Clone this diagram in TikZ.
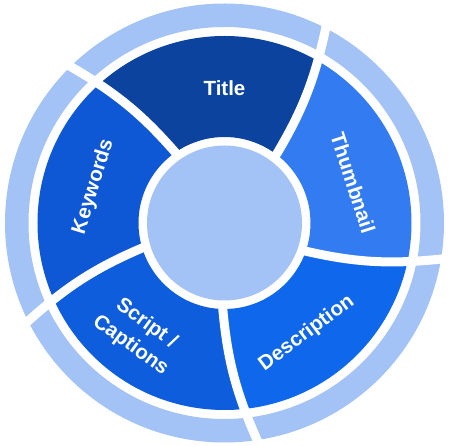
\documentclass[tikz,border=0pt]{standalone}
\usepackage{fontspec}
\setmainfont{Liberation Sans}
\definecolor{titleblue}{HTML}{0B439E}
\definecolor{keyblue}{HTML}{0E58D6}
\definecolor{scriptblue}{HTML}{0E5DDC}
\definecolor{descblue}{HTML}{0F67EB}
\definecolor{thumbblue}{HTML}{337BF0}
\definecolor{ringblue}{HTML}{A3C3F6}
\begin{document}
\begin{tikzpicture}[x=1pt,y=1pt,font=\fontsize{20.5}{27}\selectfont\bfseries]
      \tikzstyle{gapline}=[draw=white,line width=9pt]
      \tikzstyle{segtext}=[text=white,align=center,inner sep=0pt]
      \useasboundingbox (-224.5,-223) rectangle (225.5,223);
      % the five segments
      \begin{scope}[even odd rule]
        \clip (0,0) circle[radius=187pt] (0,0) circle[radius=86pt];
        \foreach \a/\c in {52/titleblue,124/keyblue,196/scriptblue,268/descblue,340/thumbblue}
          \fill[\c] (0,0) -- (\a:75) to[bend right=10] ({\a+11}:226)
            arc[start angle=\a+11,end angle=\a+83,radius=226pt]
            to[bend left=10] ({\a+72}:75) -- cycle;
      \end{scope}
      % outer ring and gaps
      \fill[ringblue,even odd rule] (0,0) circle[radius=219.5pt] (0,0) circle[radius=196pt];
      \foreach \a in {52,124,196,268,340}
        \draw[gapline] (\a:75) to[bend right=10] ({\a+11}:226);
      \fill[ringblue] (0,0) circle[radius=77.5pt];
      % labels
      \node[segtext] (title) at (90:135) {Title};
      \node[segtext,rotate=-72] (thumb) at (17.3:134.6) {Thumbnail};
      \node[segtext,rotate=36.7] (desc) at (-53.3:137.6) {Description};
      \node[segtext,rotate=-36] (script) at (232.4:141) {Script /\\Captions};
      \node[segtext,rotate=73] (keys) at (164.5:136) {Keywords};
\end{tikzpicture}
\end{document}
